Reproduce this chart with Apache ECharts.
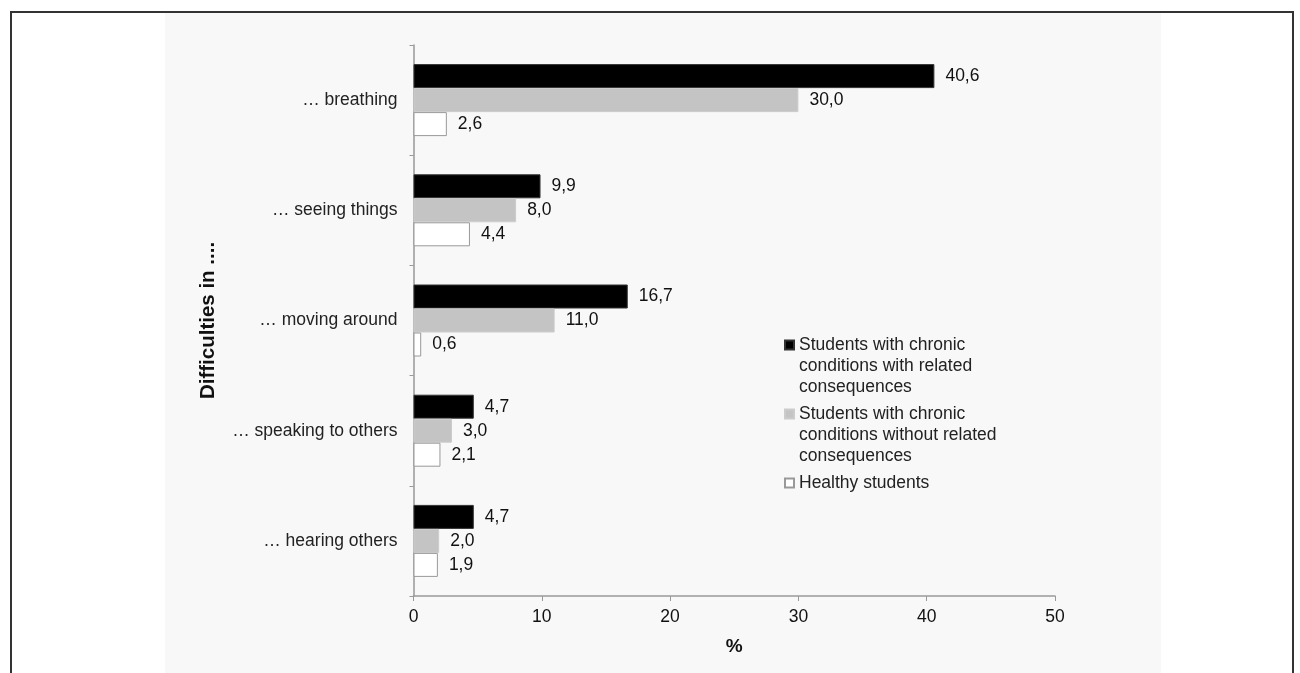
<!DOCTYPE html>
<html>
<head>
<meta charset="utf-8">
<title>Difficulties</title>
<script src="https://cdn.jsdelivr.net/npm/echarts@6/dist/echarts.min.js"></script>
<style>
  body { margin: 0; background: #fff; }
  #wrap { position: relative; width: 1300px; height: 673px; overflow: hidden; }
  #frame { position: absolute; left: 10px; top: 11px; width: 1280px; height: 680px;
           border-top: 2px solid #333; border-left: 2px solid #333; border-right: 2px solid #333; }
  #panel { position: absolute; left: 165px; top: 13px; width: 996px; height: 660px; background: #f8f8f8; }
  #main { position: absolute; left: 0; top: 0; width: 1300px; height: 673px; }
</style>
</head>
<body>
<div id="wrap">
  <div id="frame"></div>
  <div id="panel"></div>
  <div id="main"></div>
</div>
<script type="text/javascript">
    // 数据
    var categories = ['\u2026 breathing', '\u2026 seeing things', '\u2026 moving around', '\u2026 speaking to others', '\u2026 hearing others'];
    var seriesNames = [
        'Students with chronic conditions with related consequences',
        'Students with chronic conditions without related consequences',
        'Healthy students'
    ];
    var withConsequences = [40.6, 9.9, 16.7, 4.7, 4.7];
    var withoutConsequences = [30.0, 8.0, 11.0, 3.0, 2.0];
    var healthy = [2.6, 4.4, 0.6, 2.1, 1.9];
    var xTicks = [0, 10, 20, 30, 40, 50];

    // 图例文字换行（前面两个空行让图标对齐第一行）
    var legendText = {};
    legendText[seriesNames[0]] = '\n\nStudents with chronic\nconditions with related\nconsequences';
    legendText[seriesNames[1]] = '\n\nStudents with chronic\nconditions without related\nconsequences';
    legendText[seriesNames[2]] = 'Healthy students';

    var font = 'Liberation Sans, Arial, sans-serif';

    function fmt(v) {
        return v.toFixed(1).replace('.', ',');
    }

    var myChart = echarts.init(document.getElementById('main'), null, { renderer: 'canvas' });

    function barSeries(name, data, fill, border) {
        return {
            name: name,
            type: 'bar',
            data: data,
            barWidth: 24,
            barGap: '0%',
            itemStyle: { color: fill, borderColor: border, borderWidth: 1 },
            label: {
                show: true,
                position: 'right',
                distance: 11,
                color: '#111',
                fontFamily: font,
                fontSize: 17.5,
                formatter: function (p) { return fmt(p.value); }
            },
            animation: false
        };
    }

    myChart.setOption({
        backgroundColor: 'transparent',
        animation: false,
        grid: { left: 413.5, right: 245, top: 45, bottom: 77, containLabel: false },
        legend: {
            orient: 'vertical',
            left: 784,
            top: 292.5,
            padding: 0,
            itemGap: -36,
            itemWidth: 9,
            itemHeight: 9,
            icon: 'rect',
            selectedMode: false,
            formatter: function (name) { return legendText[name]; },
            textStyle: { fontFamily: font, fontSize: 17.5, lineHeight: 21, color: '#222' },
            data: [
                { name: seriesNames[0] },
                { name: seriesNames[1] },
                { name: seriesNames[2], textStyle: { padding: [42, 0, 42, 0] } }
            ]
        },
        xAxis: {
            type: 'value',
            min: xTicks[0],
            max: xTicks[xTicks.length - 1],
            interval: 10,
            name: '%',
            nameLocation: 'middle',
            nameGap: 41,
            nameTextStyle: { fontFamily: font, fontSize: 19, fontWeight: 'bold', color: '#111' },
            axisLine: { show: true, lineStyle: { color: '#999', width: 1.5 } },
            axisTick: { show: true, length: 5, lineStyle: { color: '#999' } },
            axisLabel: { margin: 12, fontFamily: font, fontSize: 17.5, color: '#111' },
            splitLine: { show: false }
        },
        yAxis: {
            type: 'category',
            inverse: true,
            data: categories,
            name: 'Difficulties in ....',
            nameLocation: 'middle',
            nameRotate: 90,
            nameGap: 195,
            nameTextStyle: { fontFamily: font, fontSize: 20.5, fontWeight: 'bold', color: '#111' },
            axisLine: { show: true, lineStyle: { color: '#999', width: 1.5 } },
            axisTick: { show: true, length: 4, interval: 0, lineStyle: { color: '#999' } },
            axisLabel: { margin: 16, fontFamily: font, fontSize: 17.5, color: '#222' }
        },
        series: [
            barSeries(seriesNames[0], withConsequences, '#000', '#333'),
            barSeries(seriesNames[1], withoutConsequences, '#c4c4c4', '#cccccc'),
            barSeries(seriesNames[2], healthy, '#fff', '#999')
        ]
    });
</script>
</body>
</html>
